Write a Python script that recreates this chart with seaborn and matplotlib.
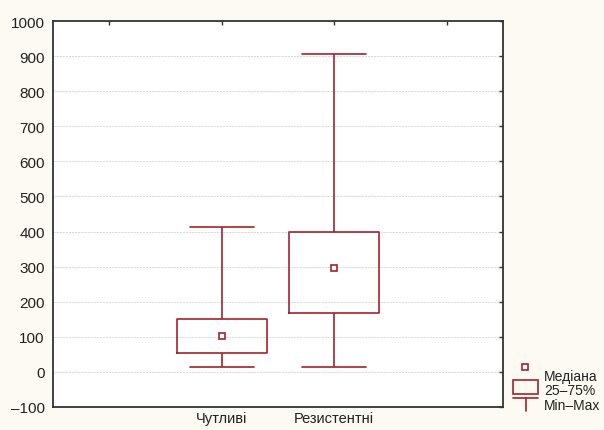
import numpy as np
import pandas as pd
import matplotlib
matplotlib.use("Agg")
import matplotlib.pyplot as plt
import seaborn as sns
from matplotlib.patches import Rectangle
from matplotlib.lines import Line2D

# ---- data ----
groups = ["Чутливі", "Резистентні"]
mins = [13, 13]
q1s = [54, 168]
medians = [102, 297]
q3s = [152, 399]
maxs = [414, 905]
yticks = list(range(-100, 1001, 100))
legend_labels = ["Медіана", "25–75%", "Min–Max"]

RED = "#a3222d"
BG = "#fcfaf3"

rows = []
for g, a, b, c, d, e in zip(groups, mins, q1s, medians, q3s, maxs):
    for v in (a, b, c, d, e):
        rows.append({"group": g, "value": v})
df = pd.DataFrame(rows)
med_df = pd.DataFrame({"group": groups, "value": medians})

sns.set_theme(style="white")
plt.rcParams["font.family"] = ["Liberation Sans Narrow", "Liberation Sans", "DejaVu Sans"]

fig = plt.figure(figsize=(6.04, 4.31), dpi=100, facecolor=BG)
ax = fig.add_axes([53 / 604, 1 - 408 / 431, 450 / 604, 386 / 431])
ax.set_facecolor("white")

order = ["_a", "Чутливі", "Резистентні", "_b"]

sns.boxplot(data=df, x="group", y="value", order=order, whis=(0, 100),
            width=0.8, fill=False, color=RED, linecolor=RED, linewidth=1.2,
            medianprops={"visible": False}, capwidths=0.57, ax=ax)
sns.pointplot(data=med_df, x="group", y="value", order=order,
              estimator="median", errorbar=None, linestyles="none",
              markers="s", color=RED, markersize=4, markerfacecolor="white",
              markeredgewidth=1.2, ax=ax)

ax.set_xlim(-0.5, 3.5)
ax.set_ylim(-100, 1000)
ax.set_yticks(yticks)
ax.set_yticklabels(["–100" if t < 0 else str(t) for t in yticks])
ax.set_xticks([0, 1, 2, 3])
ax.set_xticklabels(["", groups[0], groups[1], ""])
ax.set_xlabel("")
ax.set_ylabel("")

for t in yticks[1:-1]:
    ax.axhline(t, color="#d2d2d2", lw=0.6, ls=(0, (2.5, 1.2)), zorder=0)

for s in ax.spines.values():
    s.set_visible(True)
    s.set_color("#333333")
    s.set_linewidth(1.3)

ax.tick_params(axis="both", direction="in", length=3, width=1, color="#333333",
               labelsize=11, labelcolor="#222222", top=True, right=True,
               left=False)
ax.tick_params(axis="y", pad=6)
ax.tick_params(axis="x", pad=3, labelsize=10.5)

# ---- legend (outside, right) ----
lax = fig.add_axes([0, 0, 1, 1], facecolor="none")
lax.set_xlim(0, 604)
lax.set_ylim(431, 0)
lax.axis("off")
lax.add_line(Line2D([525], [368], marker="s", markersize=4, color=RED,
                    markerfacecolor="white", markeredgewidth=1.2, ls="none"))
lax.add_patch(Rectangle((513, 381), 25, 14, fill=False, edgecolor=RED, lw=1.2))
lax.add_line(Line2D([513, 538], [399, 399], color=RED, lw=1.2))
lax.add_line(Line2D([525.5, 525.5], [399, 412], color=RED, lw=1.2))
for i, lab in enumerate(legend_labels):
    lax.text(544, 377 + i * 14.5, lab, fontsize=10, color="#222222",
             va="center", ha="left")

fig.savefig("out.png", dpi=100, facecolor=BG)
